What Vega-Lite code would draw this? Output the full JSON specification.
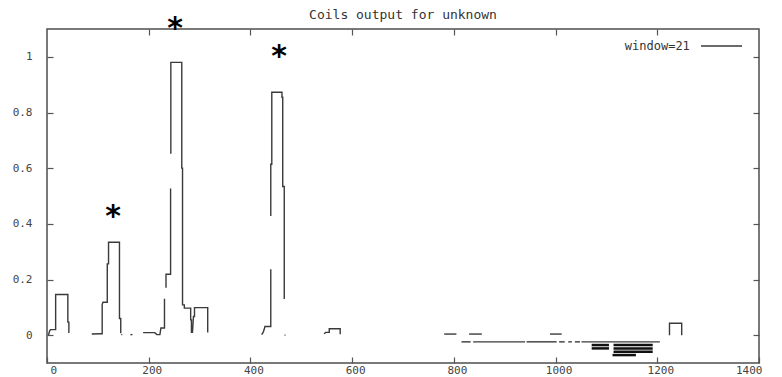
{
  "$schema": "https://vega.github.io/schema/vega-lite/v6.json",
  "width": 712,
  "height": 334,
  "autosize": {"type": "none"},
  "padding": {"left": 47, "top": 29, "right": 23, "bottom": 14},
  "background": "white",
  "title": {"text": "Coils output for unknown", "font": "DejaVu Sans Mono", "fontSize": 13, "fontWeight": "normal", "color": "#333333", "anchor": "middle", "offset": -8},
  "config": {
    "view": {"stroke": "#4d4d4d", "strokeWidth": 1.5},
    "axis": {"domain": false, "grid": false, "tickSize": -6, "tickColor": "#555555", "tickWidth": 1.2, "labelFont": "DejaVu Sans Mono", "labelFontSize": 11, "labelColor": "#444444", "title": null}
  },
  "datasets": {
    "trace": [
      {"s": 1, "i": 1, "x": 3, "y": 0.0}, {"s": 1, "i": 2, "x": 5, "y": 0.015}, {"s": 1, "i": 3, "x": 7, "y": 0.02}, {"s": 1, "i": 4, "x": 17, "y": 0.02}, {"s": 1, "i": 5, "x": 17, "y": 0.146}, {"s": 1, "i": 6, "x": 41, "y": 0.146}, {"s": 1, "i": 7, "x": 41, "y": 0.047}, {"s": 1, "i": 8, "x": 43, "y": 0.047}, {"s": 1, "i": 9, "x": 43, "y": 0.008},
      {"s": 2, "i": 10, "x": 88, "y": 0.004}, {"s": 2, "i": 11, "x": 107, "y": 0.005}, {"s": 2, "i": 12, "x": 108.5, "y": 0.005}, {"s": 2, "i": 13, "x": 108.5, "y": 0.11}, {"s": 2, "i": 14, "x": 110, "y": 0.118}, {"s": 2, "i": 15, "x": 118.5, "y": 0.118}, {"s": 2, "i": 16, "x": 118.5, "y": 0.256}, {"s": 2, "i": 17, "x": 121, "y": 0.256}, {"s": 2, "i": 18, "x": 121, "y": 0.334}, {"s": 2, "i": 19, "x": 142.5, "y": 0.334}, {"s": 2, "i": 20, "x": 142.5, "y": 0.06}, {"s": 2, "i": 21, "x": 145, "y": 0.06}, {"s": 2, "i": 22, "x": 145, "y": 0.007},
      {"s": 3, "i": 23, "x": 146, "y": 0.002}, {"s": 3, "i": 24, "x": 148, "y": 0.002},
      {"s": 4, "i": 25, "x": 164, "y": 0.002}, {"s": 4, "i": 26, "x": 168, "y": 0.002},
      {"s": 5, "i": 27, "x": 189, "y": 0.009}, {"s": 5, "i": 28, "x": 212, "y": 0.009}, {"s": 5, "i": 29, "x": 216, "y": 0.002}, {"s": 5, "i": 30, "x": 222, "y": 0.002}, {"s": 5, "i": 31, "x": 224, "y": 0.026}, {"s": 5, "i": 32, "x": 231, "y": 0.026}, {"s": 5, "i": 33, "x": 231, "y": 0.131},
      {"s": 6, "i": 34, "x": 234, "y": 0.17}, {"s": 6, "i": 35, "x": 234, "y": 0.219}, {"s": 6, "i": 36, "x": 243, "y": 0.219}, {"s": 6, "i": 37, "x": 243, "y": 0.527},
      {"s": 7, "i": 38, "x": 243.5, "y": 0.652}, {"s": 7, "i": 39, "x": 243.5, "y": 0.98}, {"s": 7, "i": 40, "x": 265, "y": 0.98}, {"s": 7, "i": 41, "x": 265, "y": 0.6}, {"s": 7, "i": 42, "x": 266.5, "y": 0.6}, {"s": 7, "i": 43, "x": 266.5, "y": 0.109}, {"s": 7, "i": 44, "x": 270, "y": 0.109}, {"s": 7, "i": 45, "x": 270, "y": 0.097}, {"s": 7, "i": 46, "x": 282.5, "y": 0.097}, {"s": 7, "i": 47, "x": 282.5, "y": 0.055}, {"s": 7, "i": 48, "x": 284, "y": 0.055}, {"s": 7, "i": 49, "x": 284, "y": 0.01}, {"s": 7, "i": 50, "x": 286, "y": 0.01}, {"s": 7, "i": 51, "x": 288, "y": 0.067}, {"s": 7, "i": 52, "x": 290, "y": 0.067}, {"s": 7, "i": 53, "x": 290, "y": 0.099}, {"s": 7, "i": 54, "x": 316, "y": 0.099}, {"s": 7, "i": 55, "x": 316, "y": 0.01},
      {"s": 8, "i": 56, "x": 422, "y": 0.002}, {"s": 8, "i": 57, "x": 425, "y": 0.01}, {"s": 8, "i": 58, "x": 427, "y": 0.02}, {"s": 8, "i": 59, "x": 428.5, "y": 0.031}, {"s": 8, "i": 60, "x": 440, "y": 0.031}, {"s": 8, "i": 61, "x": 440, "y": 0.237},
      {"s": 9, "i": 62, "x": 440, "y": 0.428}, {"s": 9, "i": 63, "x": 440, "y": 0.614}, {"s": 9, "i": 64, "x": 442, "y": 0.614}, {"s": 9, "i": 65, "x": 442, "y": 0.873}, {"s": 9, "i": 66, "x": 462, "y": 0.873}, {"s": 9, "i": 67, "x": 462, "y": 0.855}, {"s": 9, "i": 68, "x": 463.5, "y": 0.855}, {"s": 9, "i": 69, "x": 463.5, "y": 0.534}, {"s": 9, "i": 70, "x": 466.5, "y": 0.534}, {"s": 9, "i": 71, "x": 466.5, "y": 0.13},
      {"s": 10, "i": 72, "x": 467, "y": 0.0}, {"s": 10, "i": 73, "x": 469, "y": 0.0},
      {"s": 11, "i": 74, "x": 545, "y": 0.005}, {"s": 11, "i": 75, "x": 548, "y": 0.01}, {"s": 11, "i": 76, "x": 555, "y": 0.01}, {"s": 11, "i": 77, "x": 555, "y": 0.023}, {"s": 11, "i": 78, "x": 576.5, "y": 0.023}, {"s": 11, "i": 79, "x": 576.5, "y": 0.003},
      {"s": 12, "i": 80, "x": 781, "y": 0.004}, {"s": 12, "i": 81, "x": 805, "y": 0.004},
      {"s": 13, "i": 82, "x": 830, "y": 0.004}, {"s": 13, "i": 83, "x": 855, "y": 0.004},
      {"s": 14, "i": 84, "x": 989, "y": 0.004}, {"s": 14, "i": 85, "x": 1012, "y": 0.004},
      {"s": 15, "i": 86, "x": 1224, "y": 0.0}, {"s": 15, "i": 87, "x": 1224, "y": 0.043}, {"s": 15, "i": 88, "x": 1248, "y": 0.043}, {"s": 15, "i": 89, "x": 1248, "y": 0.0},
      {"s": 16, "i": 90, "x": 815, "y": -0.024}, {"s": 16, "i": 91, "x": 833, "y": -0.024},
      {"s": 17, "i": 92, "x": 838, "y": -0.024}, {"s": 17, "i": 93, "x": 940, "y": -0.024},
      {"s": 18, "i": 94, "x": 943, "y": -0.024}, {"s": 18, "i": 95, "x": 1002, "y": -0.024},
      {"s": 19, "i": 96, "x": 1007, "y": -0.024}, {"s": 19, "i": 97, "x": 1018, "y": -0.024},
      {"s": 20, "i": 98, "x": 1025, "y": -0.024}, {"s": 20, "i": 99, "x": 1032, "y": -0.024},
      {"s": 21, "i": 100, "x": 1038, "y": -0.024}, {"s": 21, "i": 101, "x": 1048, "y": -0.024},
      {"s": 22, "i": 102, "x": 1051, "y": -0.024}, {"s": 22, "i": 103, "x": 1205, "y": -0.024}
    ],
    "blocks": [
      {"x": 1071, "x2": 1105, "y": -0.031, "y2": -0.040},
      {"x": 1071, "x2": 1105, "y": -0.043, "y2": -0.052},
      {"x": 1114, "x2": 1191, "y": -0.031, "y2": -0.040},
      {"x": 1114, "x2": 1191, "y": -0.043, "y2": -0.052},
      {"x": 1114, "x2": 1191, "y": -0.055, "y2": -0.064},
      {"x": 1112, "x2": 1158, "y": -0.067, "y2": -0.076}
    ],
    "stars": [
      {"x": 251.7, "y": 1.0675, "t": "*"},
      {"x": 456.2, "y": 0.967, "t": "*"},
      {"x": 129.8, "y": 0.392, "t": "*"}
    ],
    "key": [
      {"x": 1264, "x2": 1286, "x3": 1366.6, "y": 1.039, "t": "window=21"}
    ]
  },
  "layer": [
    {
      "data": {"name": "trace"},
      "mark": {"type": "line", "color": "#3a3a3a", "strokeWidth": 1.4, "strokeCap": "butt"},
      "encoding": {
        "x": {"field": "x", "type": "quantitative", "scale": {"domain": [0, 1400], "nice": false, "zero": false}, "axis": {"orient": "bottom", "values": [0, 200, 400, 600, 800, 1000, 1200, 1400], "format": "d", "labelPadding": 7, "labelOffset": 3}},
        "y": {"field": "y", "type": "quantitative", "scale": {"domain": [-0.1, 1.1], "nice": false, "zero": false}, "axis": {"orient": "left", "values": [0, 0.2, 0.4, 0.6, 0.8, 1], "format": "~g", "labelPadding": 21}},
        "detail": {"field": "s", "type": "nominal"},
        "order": {"field": "i", "type": "quantitative"}
      }
    },
    {
      "data": {"name": "blocks"},
      "mark": {"type": "rect", "color": "#111111"},
      "encoding": {
        "x": {"field": "x", "type": "quantitative", "axis": {"orient": "top", "values": [200, 400, 600, 800, 1000, 1200], "labels": false}},
        "x2": {"field": "x2"},
        "y": {"field": "y", "type": "quantitative", "axis": {"orient": "right", "values": [0, 0.2, 0.4, 0.6, 0.8, 1], "labels": false}},
        "y2": {"field": "y2"}
      }
    },
    {
      "data": {"name": "stars"},
      "mark": {"type": "text", "font": "DejaVu Sans", "fontSize": 30, "fontWeight": "bold", "color": "#000000", "baseline": "alphabetic", "align": "center"},
      "encoding": {
        "x": {"field": "x", "type": "quantitative", "axis": null},
        "y": {"field": "y", "type": "quantitative", "axis": null},
        "text": {"field": "t"}
      }
    },
    {
      "data": {"name": "key"},
      "mark": {"type": "text", "font": "DejaVu Sans Mono", "fontSize": 12, "color": "#333333", "align": "right", "baseline": "middle"},
      "encoding": {
        "x": {"field": "x", "type": "quantitative", "axis": null},
        "y": {"field": "y", "type": "quantitative", "axis": null},
        "text": {"field": "t"}
      }
    },
    {
      "data": {"name": "key"},
      "mark": {"type": "rule", "color": "#3a3a3a", "strokeWidth": 1.4},
      "encoding": {
        "x": {"field": "x2", "type": "quantitative", "axis": null},
        "x2": {"field": "x3"},
        "y": {"field": "y", "type": "quantitative", "axis": null}
      }
    }
  ],
  "resolve": {"axis": {"x": "independent", "y": "independent"}}
}
